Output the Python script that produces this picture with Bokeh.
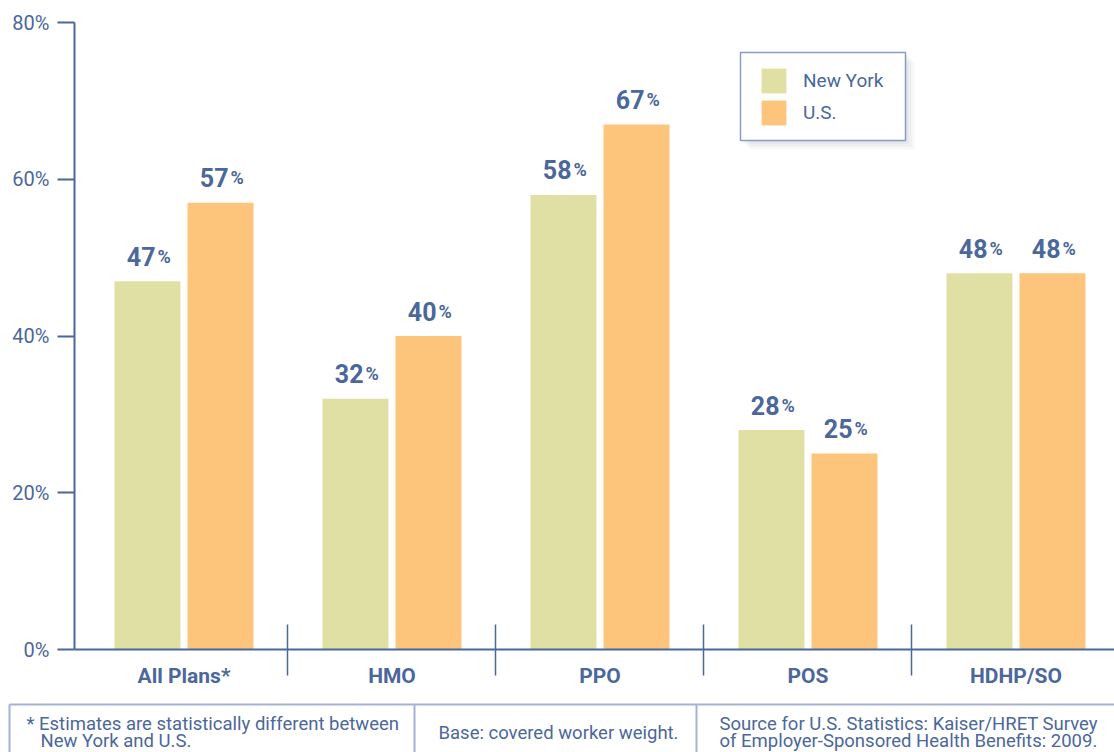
from bokeh.plotting import figure
from bokeh.models import Range1d, FixedTicker, Legend, LegendItem, BoxAnnotation, ColumnDataSource
from bokeh.transform import dodge
from bokeh.embed import file_html
from bokeh.resources import INLINE
from bokeh.core.properties import value

# ---- data ----
categories = ["All Plans*", "HMO", "PPO", "POS", "HDHP/SO"]
new_york = [47, 32, 58, 28, 48]
us = [57, 40, 67, 25, 48]
y_ticks = [0, 20, 40, 60, 80]
series_names = ["New York", "U.S."]
footer_left = ["* Estimates are statistically different between", "New York and U.S."]
footer_mid = "Base: covered worker weight."
footer_right = ["Source for U.S. Statistics: Kaiser/HRET Survey",
                "of Employer-Sponsored Health Benefits: 2009."]

# ---- style ----
BLUE = "#4b679b"
NY_COLOR = "#e1e0a4"
US_COLOR = "#fdc57c"
BOX_LINE = "#a3b3d1"
FONT = "Roboto"

W, H = 1114, 700
X0, X1 = -0.5264, 4.4736
p = figure(width=W, height=H, output_backend="svg", toolbar_location=None,
           x_range=Range1d(X0, X1), y_range=Range1d(0, 80),
           min_border_left=74, min_border_right=0, min_border_top=22, min_border_bottom=51)
p.outline_line_color = None
p.xgrid.visible = False
p.ygrid.visible = False
p.background_fill_color = "white"

idx = list(range(len(categories)))
src = ColumnDataSource(dict(
    x=idx, ny=new_york, us=us,
    ny_txt=[str(v) for v in new_york], us_txt=[str(v) for v in us],
    pct=["%"] * len(idx)))

OFF = 0.1755
BW = 0.3173
r_ny = p.vbar(x=dodge("x", -OFF, range=p.x_range), top="ny", width=BW, source=src,
              fill_color=NY_COLOR, line_color=None)
r_us = p.vbar(x=dodge("x", OFF, range=p.x_range), top="us", width=BW, source=src,
              fill_color=US_COLOR, line_color=None)

for col, txt, off in (("ny", "ny_txt", -OFF), ("us", "us_txt", OFF)):
    p.text(x=dodge("x", off, range=p.x_range), y=col, text=txt, source=src,
           text_align="right", text_baseline="alphabetic", x_offset=8, y_offset=-25,
           text_font=value(FONT), text_font_size="25px", text_font_style="bold",
           text_color=BLUE)
    p.text(x=dodge("x", off, range=p.x_range), y=col, text="pct", source=src,
           text_align="left", text_baseline="alphabetic", x_offset=10, y_offset=-25,
           text_font=value(FONT), text_font_size="18px", text_font_style="bold",
           text_color=BLUE)

# y axis
ya = p.yaxis[0]
ya.ticker = FixedTicker(ticks=y_ticks)
ya.major_label_overrides = {t: f"{t}%" for t in y_ticks}
ya.major_tick_in = 0
ya.major_tick_out = 17
ya.major_tick_line_color = BLUE
ya.major_tick_line_width = 2
ya.minor_tick_line_color = None
ya.axis_line_color = BLUE
ya.axis_line_width = 2
ya.major_label_standoff = 8
ya.major_label_text_font = FONT
ya.major_label_text_font_size = "20px"
ya.major_label_text_color = BLUE

# x axis
xa = p.xaxis[0]
xa.ticker = FixedTicker(ticks=idx, minor_ticks=[i + 0.5 for i in idx[:-1]])
xa.major_label_overrides = {i: c for i, c in zip(idx, categories)}
xa.major_tick_line_color = None
xa.major_tick_in = 0
xa.major_tick_out = 0
xa.minor_tick_in = 25
xa.minor_tick_out = 26
xa.minor_tick_line_color = BLUE
xa.minor_tick_line_width = 1.5
xa.axis_line_color = BLUE
xa.axis_line_width = 2
xa.major_label_standoff = -12
xa.major_label_text_font = FONT
xa.major_label_text_font_size = "21px"
xa.major_label_text_font_style = "bold"
xa.major_label_text_color = BLUE

# legend frame + shadow (decorative)
def px_x(px):
    return X0 + (px - 74) / 208.0

def px_y(py):
    return (649 - py) / 7.8375

for k, a in ((3, 0.07), (6, 0.07), (9, 0.05)):
    p.add_layout(BoxAnnotation(left=px_x(740 + k), right=px_x(905 + k),
                               top=px_y(52 + k), bottom=px_y(140 + k),
                               fill_color="#6b7a90", fill_alpha=a, line_color=None))
p.add_layout(BoxAnnotation(left=px_x(740), right=px_x(905), top=px_y(52), bottom=px_y(140),
                           fill_color="white", fill_alpha=1.0,
                           line_color="#8a9cc4", line_width=1.5, line_alpha=1.0))

legend = Legend(items=[LegendItem(label=series_names[0], renderers=[r_ny]),
                       LegendItem(label=series_names[1], renderers=[r_us])],
                location=(684, 521), glyph_width=31, glyph_height=31, spacing=1,
                padding=13, label_standoff=14, label_width=90,
                label_text_font=FONT, label_text_font_size="19px",
                label_text_color=BLUE, border_line_color=None,
                background_fill_alpha=0.0)
p.add_layout(legend)

# footer (separate root so its frame is not aligned to the chart's frame)
f = figure(width=W, height=52, output_backend="svg", toolbar_location=None,
           x_range=Range1d(0, 1114), y_range=Range1d(752, 700),
           x_axis_location=None, y_axis_location=None,
           min_border=0, min_border_left=0, min_border_right=0,
           min_border_top=0, min_border_bottom=0)
f.xgrid.visible = False
f.ygrid.visible = False
f.outline_line_color = None
f.segment(x0=[9, 9, 414, 696], y0=[704, 704, 704, 704],
          x1=[1114, 9, 414, 696], y1=[704, 752, 752, 752],
          line_color=BOX_LINE, line_width=2)
f.text(x=[26, 40], y=[723, 740], text=footer_left, text_baseline="middle",
       text_align="left", text_font=value(FONT), text_font_size="18.5px", text_color=BLUE)
f.text(x=[558], y=[732], text=[footer_mid], text_baseline="middle",
       text_align="center", text_font=value(FONT), text_font_size="18.5px", text_color=BLUE)
f.text(x=[719, 719], y=[723, 740], text=footer_right, text_baseline="middle",
       text_align="left", text_font=value(FONT), text_font_size="18.5px", text_color=BLUE)

open("out.html", "w").write(file_html([p, f], INLINE))
